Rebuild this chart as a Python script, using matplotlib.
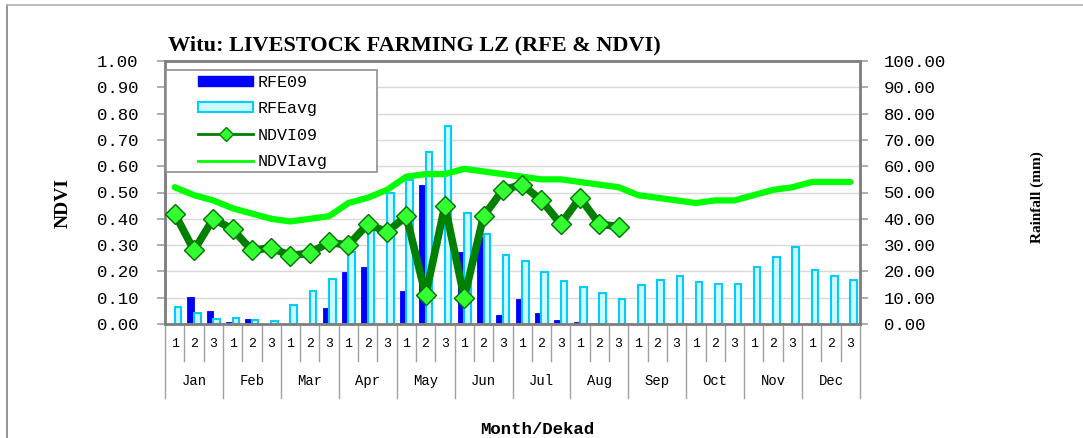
import matplotlib
matplotlib.use("Agg")
import matplotlib.pyplot as plt
from matplotlib.lines import Line2D
from matplotlib.patches import Patch, Rectangle
import matplotlib.transforms as mtransforms
import numpy as np

# data
months = ["Jan", "Feb", "Mar", "Apr", "May", "Jun",
          "Jul", "Aug", "Sep", "Oct", "Nov", "Dec"]
dekads = ["1", "2", "3"]

rfe09 = [0.0, 10.1, 4.8, 0.8, 1.9, 0.0, 0.0, 0.0, 6.0, 19.9, 21.5, 0.0,
         12.5, 52.7, 0.0, 27.4, 33.0, 3.4, 9.6, 4.3, 1.5, 0.9, 0.5, 0.0]
rfeavg = [6.6, 4.3, 2.0, 2.4, 1.4, 1.0, 7.3, 12.4, 17.2, 27.3, 36.4, 49.9,
          54.8, 65.3, 75.4, 42.1, 34.2, 26.2, 24.0, 19.9, 16.3, 14.1, 11.8, 9.6,
          14.8, 16.9, 18.4, 16.0, 15.3, 15.2, 21.7, 25.6, 29.4, 20.7, 18.4, 16.6]
ndvi09 = [0.42, 0.28, 0.40, 0.36, 0.28, 0.29, 0.26, 0.27, 0.31, 0.30, 0.38, 0.35,
          0.41, 0.11, 0.45, 0.10, 0.41, 0.51, 0.53, 0.47, 0.38, 0.48, 0.38, 0.37]
ndviavg = [0.52, 0.49, 0.47, 0.44, 0.42, 0.40, 0.39, 0.40, 0.41, 0.46, 0.48, 0.51,
           0.56, 0.57, 0.57, 0.59, 0.58, 0.57, 0.56, 0.55, 0.55, 0.54, 0.53, 0.52,
           0.49, 0.48, 0.47, 0.46, 0.47, 0.47, 0.49, 0.51, 0.52, 0.54, 0.54, 0.54]

W, H = 1083, 438
fig = plt.figure(figsize=(W / 100, H / 100), dpi=100)
fig.patch.set_facecolor("white")

# plot box in pixels: x 165..860, y 61..324
ax2 = fig.add_axes([165 / W, 1 - 324 / H, 695 / W, 263 / H])
ax = ax2.twinx()
ax.set_zorder(ax2.get_zorder() + 1)
ax.patch.set_visible(False)

# outer frame
fig.add_artist(Line2D([7 / W, 7 / W], [0, 1 - 5 / H], transform=fig.transFigure,
                      color="#808080", lw=1.2))
fig.add_artist(Line2D([7 / W, 1], [1 - 5 / H, 1 - 5 / H], transform=fig.transFigure,
                      color="#b0b0b0", lw=1.2))

n = len(rfeavg)
x = np.arange(n)
bw = 0.34

ax2.bar(x[:len(rfe09)] - bw / 2, rfe09, width=bw, color="#0000ff",
        edgecolor="#0000ff", lw=0.6, zorder=2)
ax2.bar(x + bw / 2, rfeavg, width=bw, color="#ccf8ff",
        edgecolor="#00ccff", lw=1.5, zorder=2)
ax2.set_ylim(0, 100)
ax2.set_xlim(-0.5, n - 0.5)
ax2.set_yticks(np.arange(0, 101, 10))
ax2.yaxis.grid(True, color="#d9d9d9", lw=1)
ax2.set_axisbelow(True)

ax.plot(x, ndviavg, color="#00ff00", lw=4.5, solid_capstyle="round", zorder=3)
ax.plot(x[:len(ndvi09)], ndvi09, color="#008000", lw=5.5, zorder=4,
        marker="D", ms=10, mfc="#33ff33", mec="#007000", mew=1)
ax.set_ylim(0, 1)
ax.set_xlim(-0.5, n - 0.5)
ax.set_yticks(np.arange(0, 1.01, 0.1))

# NDVI on the left, rainfall on the right
ax.yaxis.tick_left()
ax2.yaxis.tick_right()
mono = "Liberation Mono"
ax.set_yticklabels(["%.2f" % v for v in np.arange(0, 1.01, 0.1)],
                   fontfamily=mono, fontsize=12.5)
ax2.set_yticklabels(["%.2f" % v for v in np.arange(0, 101, 10)],
                    fontfamily=mono, fontsize=12.5)
ax.tick_params(axis="y", length=6, width=1.2, color="#a0a0a0", pad=13)
ax2.tick_params(axis="y", length=6, width=1.2, color="#a0a0a0", pad=11)
ax.set_xticks([])
ax2.set_xticks([])
for a in (ax, ax2):
    for s in a.spines.values():
        s.set_color("#808080")
        s.set_linewidth(1.8)

# month / dekad table under the axis
trans = mtransforms.blended_transform_factory(ax.transData, ax.transAxes)
for i in range(n + 1):
    bottom = -0.2814 if i % 3 == 0 else -0.1407
    ax.plot([i - 0.5, i - 0.5], [0, bottom], transform=trans, color="#a0a0a0",
            lw=1, clip_on=False)
for i in range(n):
    ax.text(i, -0.076, dekads[i % 3], transform=trans, ha="center", va="center",
            fontfamily=mono, fontsize=9.5)
for m, name in enumerate(months):
    ax.text(3 * m + 1, -0.2167, name, transform=trans, ha="center", va="center",
            fontfamily=mono, fontsize=10)

fig.text(537 / W, 1 - 429 / H, "Month/Dekad", ha="center", va="center",
         fontfamily=mono, fontweight="bold", fontsize=12.5)
fig.text(168 / W, 1 - 45 / H, "Witu: LIVESTOCK FARMING LZ (RFE & NDVI)",
         ha="left", va="center", fontfamily="Liberation Serif",
         fontweight="bold", fontsize=16)
fig.text(63 / W, 1 - 203 / H, "NDVI", rotation=90, ha="center", va="center",
         fontfamily="Liberation Serif", fontweight="bold", fontsize=14)
fig.text(1037 / W, 1 - 197 / H, "Rainfall (mm)", rotation=90, ha="center",
         va="center", fontfamily="Liberation Serif", fontweight="bold", fontsize=11)

# legend box, drawn separately so the padding can match
box = Rectangle((166 / W, 1 - 172 / H), 211 / W, 102 / H, transform=fig.transFigure,
                facecolor="white", edgecolor="#909090", lw=1.2, zorder=6)
fig.add_artist(box)
handles = [
    Patch(facecolor="#0000ff", edgecolor="#0000ff"),
    Patch(facecolor="#ccf8ff", edgecolor="#00ccff", lw=1.5),
    Line2D([], [], color="#008000", lw=2, marker="D", ms=7, mfc="#33ff33", mec="#008000"),
    Line2D([], [], color="#00ff00", lw=2),
]
leg = fig.legend(handles, ["RFE09", "RFEavg", "NDVI09", "NDVIavg"],
                 loc="upper left", bbox_to_anchor=(198 / W, 1 - 75 / H),
                 bbox_transform=fig.transFigure, frameon=False,
                 prop={"family": mono, "size": 12}, handlelength=3.3,
                 handleheight=0.55, handletextpad=0.3, labelspacing=0.68,
                 borderpad=0, borderaxespad=0)
leg.set_zorder(7)

fig.savefig("out.png", dpi=100)
